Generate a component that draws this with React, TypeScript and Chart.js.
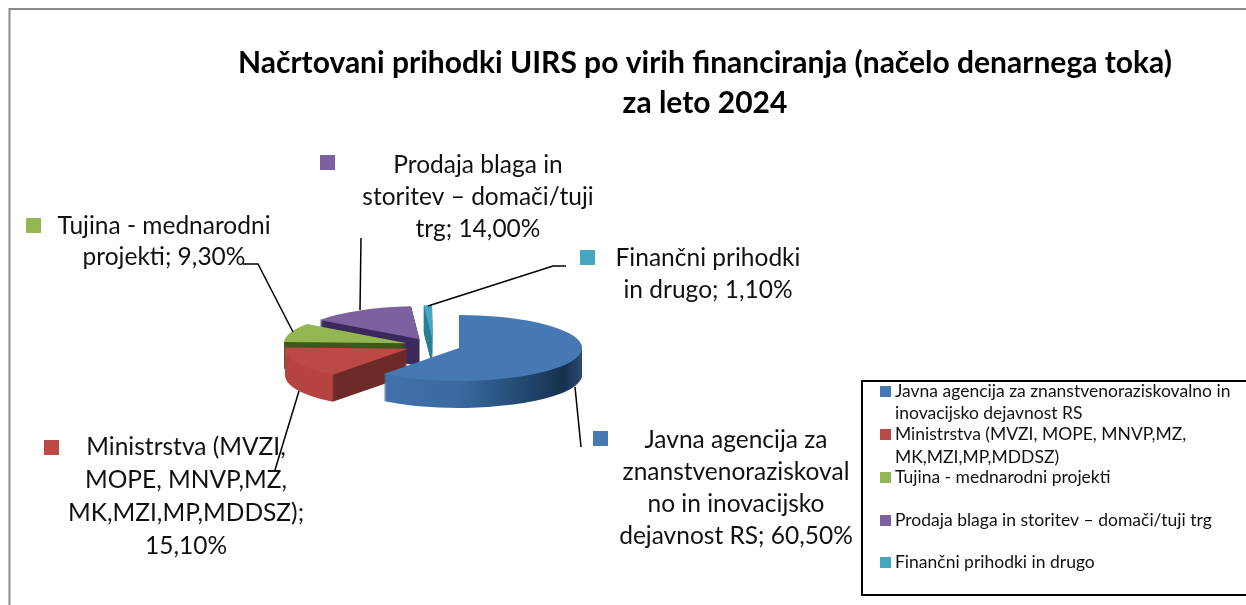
import React, { useEffect, useRef } from "react";
import { Chart, registerables } from "chart.js";

Chart.register(...registerables);

const categories = [
  "Javna agencija za znanstvenoraziskovalno in inovacijsko dejavnost RS",
  "Ministrstva (MVZI, MOPE, MNVP,MZ, MK,MZI,MP,MDDSZ)",
  "Tujina - mednarodni projekti",
  "Prodaja blaga in storitev – domači/tuji trg",
  "Finančni prihodki in drugo",
];
const values = [60.5, 15.1, 9.3, 14.0, 1.1];
const topColors = ["#4678b4", "#bb4a47", "#93b552", "#7c60a0", "#45a8c0"];
const titleLines = [
  "Načrtovani prihodki UIRS po virih financiranja (načelo denarnega toka)",
  "za leto 2024",
];
const labelLines = [
  ["Javna agencija za", "znanstvenoraziskoval", "no in inovacijsko", "dejavnost RS; 60,50%"],
  ["Ministrstva (MVZI,", "MOPE, MNVP,MZ,", "MK,MZI,MP,MDDSZ);", "15,10%"],
  ["Tujina - mednarodni", "projekti; 9,30%"],
  ["Prodaja blaga in", "storitev – domači/tuji", "trg; 14,00%"],
  ["Finančni prihodki", "in drugo; 1,10%"],
];
const legendLines = [
  ["Javna agencija za znanstvenoraziskovalno in", "inovacijsko dejavnost RS"],
  ["Ministrstva (MVZI, MOPE, MNVP,MZ,", "MK,MZI,MP,MDDSZ)"],
  ["Tujina - mednarodni projekti"],
  ["Prodaja blaga in storitev – domači/tuji trg"],
  ["Finančni prihodki in drugo"],
];

// Layout (not data)
const FONT = "Lato, 'Noto Sans', sans-serif";
const RADIUS = 123;
const SQUASH = 0.268;
const EXPLODE = 27.5;
const DEPTH = 27;
const CENTER = { x: 433, y: 345.6 };
const sideStops: [number, string][][] = [
  [[0.195, "#4270aa"], [0.5, "#3a6a9f"], [0.75, "#234a72"], [0.93, "#17304f"], [1, "#2c4c72"]],
  [[0, "#b5433f"], [0.19, "#b5433f"], [0.2, "#6d2a28"], [1, "#6d2a28"]],
  [[0, "#3f571c"], [1, "#3f571c"]],
  [[0, "#3a2a5c"], [1, "#3a2a5c"]],
  [[0, "#2a7f94"], [1, "#2a7f94"]],
];
const labelBoxes = [
  { cx: 736, y: 440, step: 32, mx: 593, my: 431 },
  { cx: 186, y: 447, step: 33, mx: 44, my: 440 },
  { cx: 164, y: 226, step: 31, mx: 26, my: 218 },
  { cx: 478, y: 165, step: 32, mx: 320, my: 155 },
  { cx: 708, y: 258, step: 32, mx: 580, my: 250 },
];
const leaders: number[][][] = [
  [[575, 387], [581, 447]],
  [[299, 391], [275, 470]],
  [[243, 264], [258, 264], [293, 332]],
  [[361, 238], [360, 310]],
  [[566, 266], [553, 266], [428, 306]],
];
const legendRows = [391, 434, 477, 520, 562];
const legendExtra = [[413], [457], [], [], []];

const pie3d = {
  id: "pie3d",
  beforeDatasetsDraw(chart: any) {
    const ctx = chart.ctx;
    const arcs = chart.getDatasetMeta(0).data;
    const paintOrder = [4, 3, 2, 1, 0];
    for (const i of paintOrder) {
      const el = arcs[i];
      const mid = (el.startAngle + el.endAngle) / 2;
      const ex = Math.cos(mid) * EXPLODE;
      const ey = Math.sin(mid) * EXPLODE;
      const paint = (dy: number, fill: any) => {
        ctx.save();
        ctx.translate(CENTER.x, CENTER.y + dy);
        ctx.scale(1, SQUASH);
        ctx.translate(ex - el.x, ey - el.y);
        el.options.backgroundColor = fill;
        el.draw(ctx);
        ctx.restore();
      };
      const grad = ctx.createLinearGradient(el.x - RADIUS, 0, el.x + RADIUS, 0);
      for (const [s, c] of sideStops[i]) grad.addColorStop(s, c);
      for (let dy = DEPTH; dy >= 1; dy--) paint(dy, grad);
      paint(0, topColors[i]);
    }
    return false;
  },
  afterDraw(chart: any) {
    const ctx = chart.ctx;
    ctx.save();
    // frame
    ctx.strokeStyle = "#8a8a8a";
    ctx.lineWidth = 2;
    ctx.beginPath();
    ctx.moveTo(9.5, 605);
    ctx.lineTo(9.5, 9);
    ctx.lineTo(1246, 9);
    ctx.stroke();
    // leaders
    ctx.strokeStyle = "#000";
    ctx.lineWidth = 1.5;
    for (const pts of leaders) {
      ctx.beginPath();
      pts.forEach(([x, y], k) => (k ? ctx.lineTo(x, y) : ctx.moveTo(x, y)));
      ctx.stroke();
    }
    // data labels
    ctx.fillStyle = "#111";
    ctx.textBaseline = "middle";
    ctx.textAlign = "center";
    ctx.font = `24.5px ${FONT}`;
    labelLines.forEach((lines, i) => {
      const b = labelBoxes[i];
      lines.forEach((t, k) => ctx.fillText(t, b.cx, b.y + k * b.step));
      ctx.fillStyle = topColors[i];
      ctx.fillRect(b.mx, b.my, 15, 15);
      ctx.fillStyle = "#111";
    });
    // legend
    ctx.strokeStyle = "#000";
    ctx.lineWidth = 2;
    ctx.strokeRect(862, 381, 400, 214);
    ctx.textAlign = "left";
    ctx.font = `17.5px ${FONT}`;
    legendLines.forEach((lines, i) => {
      ctx.fillStyle = topColors[i];
      ctx.fillRect(880, legendRows[i] - 5, 11, 11);
      ctx.fillStyle = "#111";
      ctx.fillText(lines[0], 895, legendRows[i]);
      if (lines[1]) ctx.fillText(lines[1], 895, legendExtra[i][0]);
    });
    ctx.restore();
  },
};

export default function App() {
  const ref = useRef<HTMLCanvasElement>(null);
  useEffect(() => {
    const chart = new Chart(ref.current as HTMLCanvasElement, {
      type: "pie",
      data: {
        labels: categories,
        datasets: [{ data: values, backgroundColor: topColors, borderWidth: 0, radius: RADIUS } as any],
      },
      options: {
        responsive: false,
        animation: false,
        layout: { padding: { left: 164, top: 0 } },
        plugins: {
          legend: { display: false },
          tooltip: { enabled: false },
          title: {
            display: true,
            text: titleLines,
            color: "#000",
            font: { family: FONT, size: 30, weight: "bold", lineHeight: 1.33 },
            padding: { top: 43, bottom: 0 },
          },
        },
      },
      plugins: [pie3d],
    } as any);
    return () => chart.destroy();
  }, []);
  return (
    <div style={{ position: "absolute", left: 0, top: 0, width: 1246, height: 605, background: "#fff", overflow: "hidden" }}>
      <canvas ref={ref} width={1246} height={605} style={{ display: "block" }} />
    </div>
  );
}
